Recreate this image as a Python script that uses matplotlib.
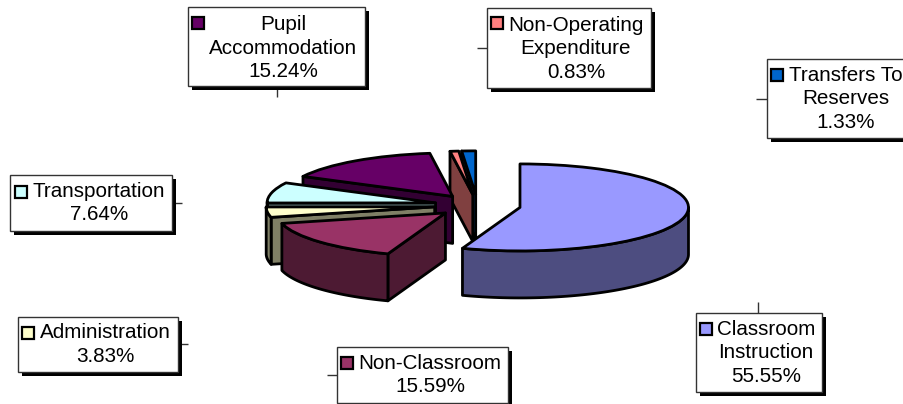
import numpy as np
import matplotlib
matplotlib.use("Agg")
import matplotlib.pyplot as plt
from matplotlib.patches import Polygon, Rectangle

plt.rcParams['font.family'] = ['Liberation Sans', 'DejaVu Sans']

categories = ["Classroom\nInstruction", "Non-Classroom", "Administration",
              "Transportation", "Pupil\nAccommodation",
              "Non-Operating\nExpenditure", "Transfers To\nReserves"]
values = [55.55, 15.59, 3.83, 7.64, 15.24, 0.83, 1.33]
top_colors = ["#9999FF", "#993366", "#FFFFCC", "#CCFFFF", "#660066", "#FF8080", "#0066CC"]
side_colors = ["#4D4D80", "#4D1A33", "#808066", "#668080", "#330033", "#804040", "#003366"]
explode = [0.256] * 7
draw_rank = [5, 6, 4, 3, 2, 1, 0]   # painter order, back = 0

W, H = 904, 404
CX, CY, RX, RY, DEPTH = 477.5, 205.5, 168.5, 43.5, 47.0
LW = 2.0

fig = plt.figure(figsize=(W / 100, H / 100), dpi=100, facecolor="white")
ax = fig.add_axes([0, 0, 1, 1])
wedges, _ = ax.pie(values, explode=explode, colors=top_colors, startangle=90,
                   counterclock=False, radius=1, frame=True,
                   wedgeprops=dict(edgecolor="black", linewidth=LW, joinstyle="round"))
ax.set_aspect("auto")
ax.set_xlim(-CX / RX, (W - CX) / RX)
ax.set_ylim((CY - H) / RY, CY / RY)
ax.axis("off")

dz = DEPTH / RY
total = sum(values)
start = 0.0
for val, w, side, rank in zip(values, wedges, side_colors, draw_rank):
    end = start + val / total * 360
    mid = np.radians((start + end) / 2)
    ox, oy = explode[0] * np.sin(mid), explode[0] * np.cos(mid)
    zbase = 2 + rank * 3
    pt = lambda a: (ox + np.sin(np.radians(a)), oy + np.cos(np.radians(a)))
    # start cut face is visible when it faces the viewer
    if np.sin(np.radians(start)) < -1e-6:
        x, y = pt(start)
        ax.add_patch(Polygon([(ox, oy), (x, y), (x, y - dz), (ox, oy - dz)], closed=True,
                             fc=side, ec="black", lw=LW, zorder=zbase, joinstyle="round"))
    # outer wall on the front half
    a0, a1 = max(start, 90), min(end, 270)
    if a1 > a0:
        th = np.linspace(a0, a1, 80)
        xs = ox + np.sin(np.radians(th))
        ys = oy + np.cos(np.radians(th))
        poly = np.r_[np.c_[xs, ys], np.c_[xs[::-1], ys[::-1] - dz]]
        ax.add_patch(Polygon(poly, closed=True, fc=side, ec="black", lw=LW,
                             zorder=zbase + 1, joinstyle="round"))
    w.set_zorder(zbase + 2)
    start = end

# label layer in pixel coordinates
lay = fig.add_axes([0, 0, 1, 1], zorder=10)
lay.set_xlim(0, W)
lay.set_ylim(H, 0)
lay.axis("off")
lay.patch.set_alpha(0)

# left, top, right, bottom, swatch x, swatch y, text-center x, first baseline y, leader
boxes = [
    (696, 313, 822, 392, 700, 323, 766, 335, ((758, 302), (758, 313))),
    (337, 347, 508, 403, 341, 357, 430, 369, ((327, 375), (337, 375))),
    (18, 317, 178, 372, 22, 327, 105, 338, ((178, 344), (188, 344))),
    (10, 175, 172, 231, 15, 186, 99, 197, ((172, 203), (182, 203))),
    (188, 7, 365, 86, 192, 17, 283, 30, ((277, 86), (277, 97))),
    (487, 8, 651, 88, 491, 17, 576, 31, ((477, 48), (487, 48))),
    (767, 59, 920, 138, 771, 69, 846, 81, ((756, 99), (767, 99))),
]
FS = 14.9
for cat, val, col, b in zip(categories, values, top_colors, boxes):
    l, t, r, bt, sx, sy, tx, ty, lead = b
    lay.plot(*zip(*lead), color="#333333", lw=1.0, solid_capstyle="butt", zorder=1)
    lay.add_patch(Rectangle((l + 4, t + 4), r - l, bt - t, fc="black", ec="black", lw=0, zorder=2))
    lay.add_patch(Rectangle((l, t), r - l, bt - t, fc="white", ec="#333333", lw=1.0, zorder=3))
    lay.add_patch(Rectangle((sx, sy), 12, 12, fc=col, ec="black", lw=1.6, zorder=4))
    lines = cat.split("\n") + [f"{val:.2f}%"]
    for i, line in enumerate(lines):
        lay.text(tx, ty + i * 23.5, line, fontsize=FS, ha="center", va="baseline",
                 color="#000000", zorder=5)

fig.savefig("out.png", dpi=100)
